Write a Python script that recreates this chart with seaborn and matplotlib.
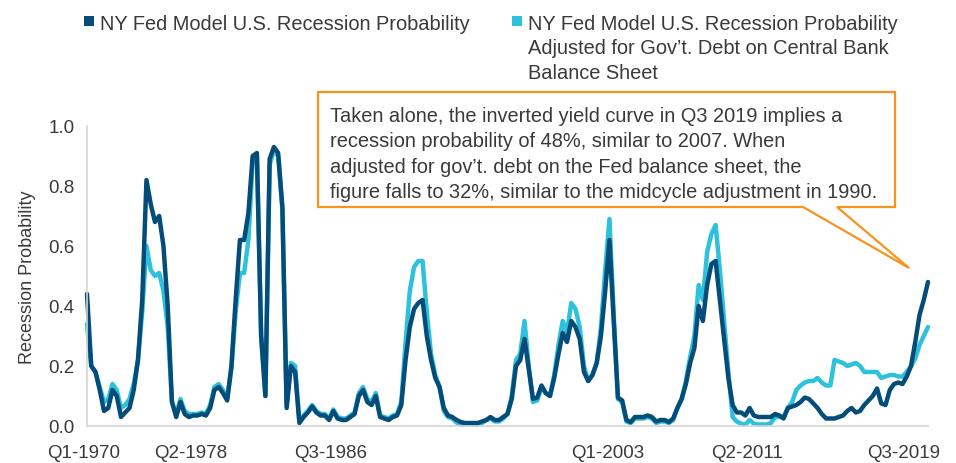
import matplotlib
matplotlib.use("Agg")
import numpy as np
import pandas as pd
import matplotlib.pyplot as plt
import matplotlib.transforms as mtransforms
from matplotlib.patches import Polygon, Rectangle
import seaborn as sns

# ---------------- data ----------------
quarters = [f"Q{(i % 4) + 1}-{1970 + i // 4}" for i in range(199)]

ny_fed = [
    0.44, 0.20, 0.18, 0.12, 0.05, 0.06, 0.12, 0.10, 0.03, 0.045,
    0.06, 0.12, 0.22, 0.42, 0.82, 0.74, 0.68, 0.70, 0.60, 0.40,
    0.08, 0.03, 0.08, 0.04, 0.03, 0.035, 0.035, 0.04, 0.035, 0.06,
    0.12, 0.13, 0.11, 0.085, 0.20, 0.42, 0.62, 0.62, 0.71, 0.90,
    0.91, 0.30, 0.10, 0.89, 0.93, 0.91, 0.73, 0.06, 0.20, 0.18,
    0.01, 0.03, 0.045, 0.065, 0.045, 0.035, 0.035, 0.02, 0.05, 0.025,
    0.02, 0.02, 0.03, 0.04, 0.10, 0.12, 0.08, 0.07, 0.10, 0.03,
    0.025, 0.02, 0.03, 0.035, 0.07, 0.22, 0.33, 0.39, 0.41, 0.42,
    0.30, 0.22, 0.16, 0.13, 0.06, 0.035, 0.03, 0.02, 0.013, 0.01,
    0.01, 0.01, 0.01, 0.015, 0.02, 0.03, 0.02, 0.02, 0.03, 0.04,
    0.09, 0.20, 0.22, 0.29, 0.19, 0.09, 0.095, 0.135, 0.11, 0.10,
    0.16, 0.24, 0.31, 0.28, 0.35, 0.33, 0.29, 0.18, 0.15, 0.17,
    0.21, 0.30, 0.45, 0.62, 0.35, 0.095, 0.085, 0.02, 0.013, 0.03,
    0.03, 0.03, 0.035, 0.03, 0.015, 0.02, 0.02, 0.013, 0.025, 0.06,
    0.09, 0.14, 0.21, 0.26, 0.40, 0.35, 0.47, 0.54, 0.55, 0.42,
    0.29, 0.16, 0.07, 0.045, 0.045, 0.035, 0.06, 0.035, 0.03, 0.03,
    0.03, 0.03, 0.04, 0.035, 0.025, 0.06, 0.065, 0.07, 0.08, 0.095,
    0.09, 0.075, 0.06, 0.04, 0.025, 0.025, 0.025, 0.03, 0.035, 0.05,
    0.06, 0.045, 0.05, 0.07, 0.085, 0.10, 0.125, 0.075, 0.07, 0.12,
    0.14, 0.145, 0.14, 0.165, 0.20, 0.28, 0.37, 0.42, 0.48,
]

ny_fed_adj = [
    0.34, 0.20, 0.18, 0.13, 0.08, 0.09, 0.14, 0.12, 0.06, 0.07,
    0.09, 0.14, 0.22, 0.38, 0.60, 0.52, 0.50, 0.51, 0.45, 0.33,
    0.08, 0.04, 0.09, 0.05, 0.04, 0.04, 0.04, 0.045, 0.04, 0.07,
    0.13, 0.14, 0.12, 0.09, 0.19, 0.38, 0.51, 0.51, 0.62, 0.88,
    0.90, 0.30, 0.10, 0.87, 0.92, 0.90, 0.72, 0.07, 0.21, 0.20,
    0.015, 0.035, 0.05, 0.07, 0.05, 0.04, 0.04, 0.025, 0.055, 0.03,
    0.025, 0.025, 0.035, 0.045, 0.11, 0.13, 0.09, 0.08, 0.11, 0.035,
    0.03, 0.025, 0.035, 0.04, 0.08, 0.28, 0.45, 0.53, 0.55, 0.55,
    0.38, 0.24, 0.17, 0.13, 0.05, 0.03, 0.025, 0.012, 0.005, 0.005,
    0.005, 0.005, 0.005, 0.01, 0.02, 0.025, 0.015, 0.015, 0.025, 0.04,
    0.10, 0.22, 0.24, 0.35, 0.20, 0.08, 0.085, 0.13, 0.11, 0.10,
    0.17, 0.27, 0.35, 0.31, 0.41, 0.39, 0.33, 0.20, 0.15, 0.17,
    0.21, 0.33, 0.52, 0.69, 0.38, 0.09, 0.08, 0.015, 0.01, 0.025,
    0.025, 0.025, 0.03, 0.025, 0.01, 0.015, 0.015, 0.01, 0.02, 0.06,
    0.09, 0.15, 0.23, 0.30, 0.47, 0.42, 0.58, 0.64, 0.67, 0.52,
    0.35, 0.18, 0.03, 0.015, 0.008, 0.005, 0.02, 0.008, 0.005, 0.005,
    0.005, 0.01, 0.03, 0.03, 0.03, 0.06, 0.08, 0.12, 0.135, 0.145,
    0.15, 0.15, 0.16, 0.145, 0.135, 0.135, 0.22, 0.215, 0.21, 0.20,
    0.205, 0.21, 0.20, 0.18, 0.18, 0.18, 0.18, 0.16, 0.165, 0.17,
    0.17, 0.165, 0.165, 0.18, 0.20, 0.225, 0.27, 0.30, 0.33,
]

tick_quarters = ["Q1-1970", "Q2-1978", "Q3-1986", "Q1-2003", "Q2-2011", "Q3-2019"]
y_ticks = [0.0, 0.2, 0.4, 0.6, 0.8, 1.0]

name_dark = "NY Fed Model U.S. Recession Probability"
name_light = ("NY Fed Model U.S. Recession Probability\n"
              "Adjusted for Gov\u2019t. Debt on Central Bank\nBalance Sheet")

note = ("Taken alone, the inverted yield curve in Q3 2019 implies a\n"
        "recession probability of 48%, similar to 2007. When\n"
        "adjusted for gov\u2019t. debt on the Fed balance sheet, the\n"
        "figure falls to 32%, similar to the midcycle adjustment in 1990.")

C_DARK = "#044C7A"
C_LIGHT = "#2DC1DB"
C_TEXT = "#3A3A3A"
C_ORANGE = "#F7941D"
C_AXIS = "#D4D4D4"

# ---------------- figure ----------------
sns.set_theme(style="white")
plt.rcParams["font.family"] = ["Liberation Sans", "DejaVu Sans"]

W, H = 956, 464
fig = plt.figure(figsize=(W / 100, H / 100), dpi=100)
ax = fig.add_axes([87 / W, 1 - 427 / H, (928 - 87) / W, (427 - 127) / H])

idx = list(range(len(quarters)))
df = pd.DataFrame({
    "q": idx + idx,
    "value": ny_fed_adj + ny_fed,
    "series": ["adj"] * len(idx) + ["base"] * len(idx),
})
sns.lineplot(data=df, x="q", y="value", hue="series", hue_order=["adj", "base"],
             palette={"adj": C_LIGHT, "base": C_DARK}, linewidth=3.2,
             legend=False, ax=ax)
for ln in ax.lines:
    ln.set_clip_on(False)
    ln.set_solid_joinstyle("round")

ax.set_xlim(0, len(quarters) - 1)
ax.set_ylim(0, 1.0)
sns.despine(ax=ax)
for s in ("left", "bottom"):
    ax.spines[s].set_color(C_AXIS)
    ax.spines[s].set_linewidth(1.2)

ax.set_yticks(y_ticks)
ax.set_yticklabels([f"{v:.1f}" for v in y_ticks])
ax.set_xticks([quarters.index(q) for q in tick_quarters])
ax.set_xticklabels(tick_quarters)
ax.tick_params(axis="both", length=0, labelsize=13.5, colors=C_TEXT)
ax.tick_params(axis="x", pad=13)
ax.tick_params(axis="y", pad=9)
ax.set_xlabel("")
ax.set_ylabel("Recession Probability", fontsize=13, color=C_TEXT, labelpad=9)

offsets = [(-3, "center"), (0, "right"), (0, "right"), (-3, "right"), (-5, "right"), (12, "right")]
for lab, (dx, ha) in zip(ax.get_xticklabels(), offsets):
    lab.set_ha(ha)
    lab.set_transform(lab.get_transform() +
                      mtransforms.ScaledTranslation(dx / 100, 0, fig.dpi_scale_trans))

# ---------------- legend ----------------
def fx(px):
    return px / W

def fy(py):
    return 1 - py / H

fig.patches.append(Rectangle((fx(84), fy(27)), 10 / W, 10 / H, transform=fig.transFigure,
                             facecolor=C_DARK, edgecolor="none"))
fig.text(fx(100), fy(24), name_dark, fontsize=14.4, color=C_TEXT, va="center", ha="left")
fig.patches.append(Rectangle((fx(512), fy(27)), 10 / W, 10 / H, transform=fig.transFigure,
                             facecolor=C_LIGHT, edgecolor="none"))
fig.text(fx(528), fy(15), name_light, fontsize=14.4, color=C_TEXT, va="top", ha="left",
         linespacing=1.36)

# ---------------- callout ----------------
pts = [(318, 93), (895, 93), (895, 208), (837, 208), (909, 269), (803, 208), (318, 208)]
fig.patches.append(Polygon([(fx(x), fy(y)) for x, y in pts], closed=True,
                           transform=fig.transFigure, facecolor="white",
                           edgecolor=C_ORANGE, linewidth=1.6, joinstyle="miter", zorder=5))
fig.text(fx(330), fy(107), note, fontsize=14.4, color=C_TEXT, va="top", ha="left",
         linespacing=1.43, zorder=6)

fig.savefig("out.png", dpi=100)
